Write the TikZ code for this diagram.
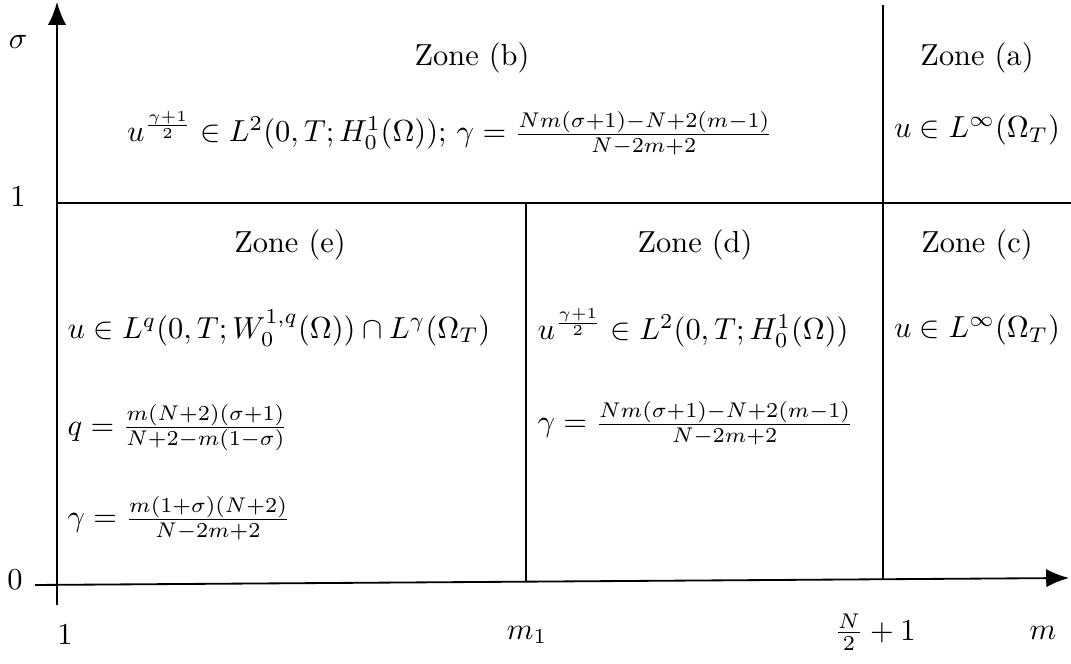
\documentclass[tikz,border=0pt]{standalone}
\usepackage{amsmath}
\usepackage{amsfonts}
\usepackage{tikz}
\usetikzlibrary{arrows.meta}

\begin{document}
\begin{tikzpicture}[x=0.1156cm, y=0.1156cm]
    \useasboundingbox (0,0) rectangle (107.1,66.4);
    %assi
    \draw[semithick, -{Latex[length=7.5pt, width=6pt]}] (5.7,5.9) -- (5.7,66.2);
    \draw[semithick, -{Latex[length=7.5pt, width=6pt]}] (3.5,7.9) -- (106.9,8.6);
    %linee delle zone
    \draw (5.7,46.1) -- (107.1,46.1);
    \draw (52.6,46.1) -- (52.6,8.2);
    \draw (88.3,65.9) -- (88.3,8.4);
    %etichette degli assi
    \node (sigma) at (1.8,62.2) {$\sigma$};
    \node (uno) at (1.8,46.7) {$1$};
    \node (zero) at (1.5,8.4) {$0$};
    \node (mmin) at (6.5,2.9) {$1$};
    \node (muno) at (52.7,2.9) {$m_1$};
    \node (mcrit) at (87.5,3.2) {$\frac{N}{2}+1$};
    \node (emme) at (104.3,3.1) {$m$};
    %zona b
    \node (zb) at (47.2,60.6) {Zone (b)};
    \node (fb) at (45.0,53.1) {$u^{\frac{\gamma+1}{2}}\in L^2(0,T;H^1_0(\Omega));\,\gamma=\frac{Nm(\sigma+1)-N+2(m-1)}{N-2m+2}$};
    %zona a
    \node (za) at (97.7,60.6) {Zone (a)};
    \node (fa) at (97.7,53.4) {$u\in L^\infty(\Omega_T)$};
    %zona e
    \node (ze) at (29.0,41.9) {Zone (e)};
    \node[anchor=west, inner sep=0pt] (fe) at (6.7,33.6) {$u\in L^q(0,T;W^{1,q}_0(\Omega))\cap L^\gamma(\Omega_T)$};
    \node[anchor=west, inner sep=0pt] (qe) at (6.7,23.6) {$q=\frac{m(N+2)(\sigma+1)}{N+2-m(1-\sigma)}$};
    \node[anchor=west, inner sep=0pt] (ge) at (6.7,14.6) {$\gamma=\frac{m(1+\sigma)(N+2)}{N-2m+2}$};
    %zona d
    \node (zd) at (69.5,41.9) {Zone (d)};
    \node[anchor=west, inner sep=0pt] (fd) at (53.7,33.6) {$u^{\frac{\gamma+1}{2}}\in L^2(0,T;H^1_0(\Omega))$};
    \node[anchor=west, inner sep=0pt] (gd) at (53.7,24.1) {$\gamma=\frac{Nm(\sigma+1)-N+2(m-1)}{N-2m+2}$};
    %zona c
    \node (zc) at (97.7,41.9) {Zone (c)};
    \node (fc) at (97.7,33.4) {$u\in L^\infty(\Omega_T)$};
\end{tikzpicture}
\end{document}
